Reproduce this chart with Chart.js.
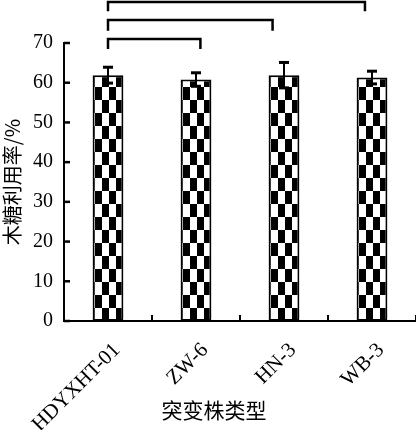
<!DOCTYPE html>
<html><head><meta charset="utf-8">
<script src="https://cdn.jsdelivr.net/npm/chart.js@4.4.0/dist/chart.umd.min.js"></script>
<style>html,body{margin:0;padding:0;background:#fff;}</style>
</head><body>
<canvas id="c" width="416" height="430" style="width:416px;height:430px;display:block"></canvas>
<script>
const categories = ['HDYXHT-01', 'ZW-6', 'HN-3', 'WB-3'];
const values = [61.9, 60.8, 61.9, 61.3];
const errors = [2.0, 1.7, 3.2, 1.6];
const yTicks = [0, 10, 20, 30, 40, 50, 60, 70];
const bracketFrom = [0, 0, 0];
const bracketTo = [1.05, 1.87, 2.92];
const bracketTop = [71.0, 75.8, 80.3];
const bracketLegBottom = [68.5, 73.1, 78.0];
const yTitle = '木糖利用率/%';
const xTitle = '突变株类型';

const SERIF = "'Liberation Serif', 'Times New Roman', serif";
const CJK = "'Noto Sans CJK SC', sans-serif";

function makePattern() {
  const c = document.createElement('canvas');
  c.width = 14; c.height = 26;
  const g = c.getContext('2d');
  g.fillStyle = '#fff'; g.fillRect(0, 0, 14, 26);
  g.fillStyle = '#000';
  g.fillRect(0, 0, 7, 13);
  g.fillRect(7, 13, 7, 13);
  return g.createPattern(c, 'repeat');
}
const patterns = categories.map(() => makePattern());

const alignPatterns = {
  id: 'alignPatterns',
  beforeDatasetsDraw(chart) {
    const meta = chart.getDatasetMeta(0);
    meta.data.forEach((bar, i) => {
      const p = bar.getProps(['x', 'width', 'base'], true);
      patterns[i].setTransform(new DOMMatrix().translate(Math.round(p.x - p.width / 2 + 2), Math.round(p.base)));
    });
  }
};

const errorBars = {
  id: 'errorBars',
  afterDatasetsDraw(chart) {
    const ctx = chart.ctx, ys = chart.scales.y;
    const meta = chart.getDatasetMeta(0);
    ctx.save();
    ctx.strokeStyle = '#000'; ctx.fillStyle = '#000'; ctx.lineWidth = 2;
    meta.data.forEach((bar, i) => {
      const x = bar.x;
      const yt = ys.getPixelForValue(values[i] + errors[i]);
      const yb = ys.getPixelForValue(values[i] - errors[i]);
      ctx.beginPath(); ctx.moveTo(x, yt); ctx.lineTo(x, yb); ctx.stroke();
      ctx.fillRect(x - 5, yt - 1.5, 10, 3);
      ctx.fillRect(x - 5, yb - 1.5, 10, 3);
    });
    ctx.restore();
  }
};

const decorations = {
  id: 'decorations',
  afterDraw(chart) {
    const ctx = chart.ctx, xs = chart.scales.x, ys = chart.scales.y, a = chart.chartArea;
    ctx.save();
    ctx.strokeStyle = '#000'; ctx.lineWidth = 2.5; ctx.lineCap = 'butt';
    yTicks.forEach(v => {
      const y = ys.getPixelForValue(v);
      ctx.beginPath(); ctx.moveTo(a.left, y); ctx.lineTo(a.left + 6, y); ctx.stroke();
    });
    ctx.lineWidth = 2;
    for (let i = 0; i <= categories.length; i++) {
      const x = xs.getPixelForValue(i - 0.5);
      ctx.beginPath(); ctx.moveTo(x, a.bottom); ctx.lineTo(x, a.bottom - 6); ctx.stroke();
    }
    ctx.lineWidth = 2.5; ctx.lineJoin = 'miter';
    bracketTop.forEach((t, k) => {
      const x1 = xs.getPixelForValue(bracketFrom[k]);
      const x2 = xs.getPixelForValue(bracketTo[k]);
      const yt = ys.getPixelForValue(t);
      const yb = ys.getPixelForValue(bracketLegBottom[k]);
      ctx.beginPath();
      ctx.moveTo(x1, yb); ctx.lineTo(x1, yt); ctx.lineTo(x2, yt); ctx.lineTo(x2, yb);
      ctx.stroke();
    });
    ctx.fillStyle = '#000';
    ctx.font = '21px ' + CJK;
    ctx.textAlign = 'center'; ctx.textBaseline = 'middle';
    ctx.fillText(xTitle, chart.width / 2 + 6, 410);
    ctx.restore();
  }
};

new Chart(document.getElementById('c'), {
  type: 'bar',
  data: {
    labels: categories,
    datasets: [{
      data: values,
      backgroundColor: patterns,
      borderColor: '#000',
      borderWidth: 2,
      borderSkipped: false,
      barPercentage: 0.7,
      categoryPercentage: 0.5
    }]
  },
  options: {
    responsive: false,
    animation: false,
    devicePixelRatio: 1,
    layout: { padding: { top: 43, right: 0, left: 0, bottom: 0 } },
    plugins: { legend: { display: false }, tooltip: { enabled: false } },
    scales: {
      x: {
        offset: true,
        grid: { display: false, drawTicks: false },
        border: { color: '#000', width: 2 },
        ticks: {
          color: '#000', font: { family: SERIF, size: 21 },
          maxRotation: 45, minRotation: 45, autoSkip: false, padding: 17, labelOffset: 9
        },
        afterFit(s) { s.height = 109; }
      },
      y: {
        min: 0, max: 70,
        grid: { display: false, drawTicks: false },
        border: { color: '#000', width: 2 },
        ticks: { stepSize: 10, color: '#000', font: { family: SERIF, size: 20 }, padding: 11 },
        title: { display: true, text: yTitle, color: '#000', font: { family: CJK, size: 20 }, padding: { top: 0, bottom: 0 } },
        afterFit(s) { s.width = 64; }
      }
    }
  },
  plugins: [alignPatterns, errorBars, decorations]
});
</script>
</body></html>
